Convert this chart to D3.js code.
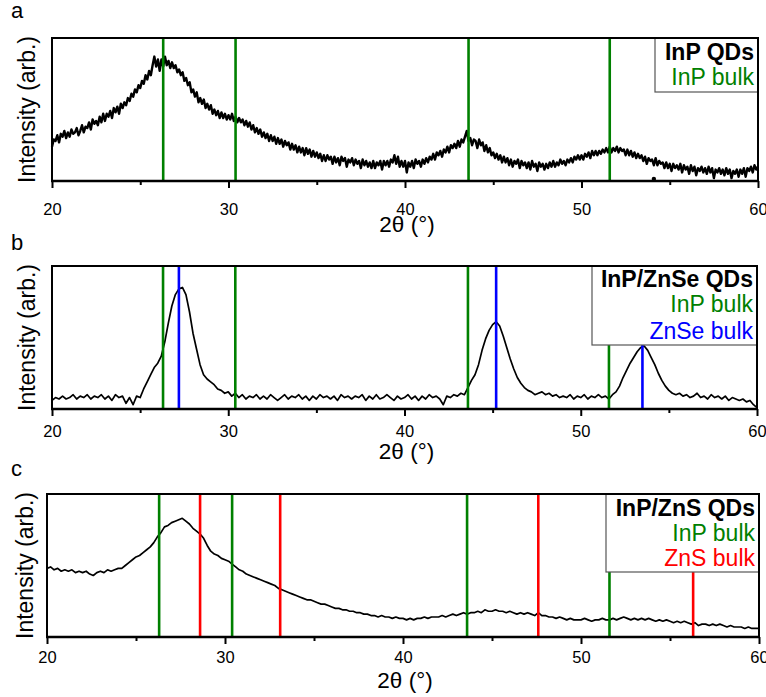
<!DOCTYPE html>
<html>
<head>
<meta charset="utf-8">
<script src="https://cdn.jsdelivr.net/npm/d3@7"></script>
<style>
  body { margin: 0; background: #fff; }
  svg { display: block; }
  text { font-family: "Liberation Sans", Arial, Helvetica, sans-serif; }
</style>
</head>
<body>
<svg id="chart" width="766" height="697"></svg>
<script>
// ---------- data ----------
const xTicks = [20, 25, 30, 35, 40, 45, 50, 55, 60];
const xLabelTicks = [20, 30, 40, 50, 60];

// reference reflection positions (2θ, degrees)
const inpBulk = [26.3, 30.4, 43.6, 51.6];
const znseBulk = [27.2, 45.2, 53.5];
const znsBulk = [28.6, 33.1, 47.6, 56.3];

// (a) InP QDs, 2θ = 20..60 in 0.1° steps, intensity in % of panel height
const inpQDs = [
  24, 29, 28, 32, 27, 33, 31, 35, 30, 34,
  31, 36, 33, 34, 37, 32, 35, 39, 34, 38,
  37, 41, 36, 43, 40, 42, 39, 45, 41, 47,
  42, 47, 45, 49, 44, 51, 48, 52, 47, 54,
  51, 55, 53, 58, 56, 61, 59, 64, 62, 67,
  65, 70, 68, 74, 71, 77, 74, 81, 87, 80,
  85, 77, 85, 80, 87, 81, 84, 79, 83, 79,
  81, 76, 78, 74, 76, 70, 72, 67, 69, 62,
  64, 59, 62, 55, 58, 54, 57, 51, 54, 50,
  53, 47, 50, 46, 49, 44, 48, 44, 47, 43,
  46, 43, 47, 42, 45, 41, 44, 41, 43, 39,
  42, 38, 41, 36, 39, 34, 37, 33, 36, 31,
  34, 30, 33, 28, 32, 28, 31, 26, 30, 26,
  29, 24, 28, 25, 27, 22, 26, 22, 25, 20,
  24, 20, 23, 18, 23, 19, 22, 17, 21, 17,
  20, 16, 19, 14, 18, 14, 18, 15, 17, 12,
  17, 13, 16, 11, 17, 14, 16, 10, 15, 13,
  16, 11, 15, 12, 14, 9, 15, 11, 14, 10,
  13, 9, 14, 9, 13, 11, 14, 8, 14, 11,
  14, 10, 15, 13, 18, 12, 17, 10, 14, 10,
  14, 6, 13, 10, 14, 9, 15, 12, 14, 10,
  15, 12, 16, 13, 17, 15, 19, 15, 20, 18,
  21, 17, 22, 20, 24, 20, 25, 23, 26, 23,
  28, 24, 29, 27, 31, 35, 28, 30, 25, 29,
  28, 23, 29, 25, 27, 21, 25, 20, 23, 18,
  20, 16, 19, 15, 18, 13, 17, 13, 16, 11,
  15, 10, 14, 12, 15, 9, 14, 11, 13, 9,
  13, 8, 14, 10, 12, 7, 13, 10, 12, 8,
  12, 9, 13, 10, 14, 10, 13, 11, 15, 12,
  14, 11, 15, 13, 16, 13, 17, 15, 18, 15,
  18, 15, 19, 17, 20, 16, 21, 18, 21, 18,
  21, 19, 22, 20, 23, 20, 24, 20, 23, 21,
  24, 20, 23, 21, 22, 18, 22, 18, 21, 17,
  20, 16, 19, 16, 18, 14, 17, 12, 16, 14,
  15, 11, 16, 11, 14, 12, 13, 9, 13, 9,
  12, 7, 12, 9, 11, 8, 12, 6, 11, 8,
  10, 5, 11, 7, 10, 4, 9, 7, 10, 6,
  9, 5, 10, 6, 9, 2, 8, 6, 9, 5,
  8, 4, 9, 5, 8, 2, 7, 5, 8, 3,
  8, 5, 9, 3, 9, 7, 10, 6, 11, 8,
  10
];
const inpQDsStray = [[54.1, 1.4]];

// (b) InP/ZnSe QDs, 2θ = 20..60 in 0.2° steps
const inpZnSeQDs = [
  6, 8, 7, 9, 7,
  8, 10, 7, 9, 8,
  10, 7, 9, 8, 10,
  7, 9, 6, 10, 8,
  9, 4, 8, 3, 9,
  8, 14, 19, 24, 29,
  32, 37, 47, 60, 72,
  80, 84, 85, 80, 68,
  53, 42, 31, 24, 21,
  19, 17, 14, 13, 11,
  12, 9, 11, 8, 10,
  7, 9, 8, 10, 7,
  9, 7, 10, 8, 6,
  8, 10, 7, 9, 8,
  10, 7, 9, 6, 9,
  7, 10, 8, 9, 7,
  9, 6, 10, 8, 9,
  7, 9, 8, 10, 6,
  9, 7, 10, 7, 8,
  10, 8, 6, 9, 7,
  8, 10, 7, 9, 6,
  9, 7, 10, 8, 9,
  7, 3, 9, 8, 10,
  9, 11, 10, 15, 20,
  24, 31, 41, 49, 55,
  59, 61, 58, 51, 43,
  35, 28, 22, 18, 15,
  13, 12, 10, 11, 12,
  10, 11, 9, 10, 8,
  9, 8, 10, 7, 9,
  8, 10, 7, 9, 8,
  10, 8, 9, 7, 10,
  12, 16, 22, 27, 32,
  36, 40, 43, 44, 41,
  36, 31, 25, 20, 16,
  13, 11, 10, 11, 9,
  10, 8, 9, 11, 8,
  9, 7, 10, 8, 9,
  7, 9, 6, 8, 7,
  6, 7, 5, 6, 3,
  1
];

// (c) InP/ZnS QDs, 2θ = 20..60 in 0.2° steps
const inpZnSQDs = [
  48, 49, 47, 48, 46,
  47, 46, 47, 45, 46,
  45, 46, 44, 43, 45,
  46, 45, 47, 46, 47,
  48, 48, 50, 52, 54,
  56, 57, 59, 61, 63,
  66, 70, 73, 77, 78,
  80, 81, 82, 83, 81,
  79, 76, 74, 72, 69,
  64, 60, 58, 57, 55,
  54, 53, 51, 49, 47,
  46, 44, 43, 42, 41,
  40, 39, 38, 37, 36,
  34, 33, 32, 31, 30,
  29, 28, 27, 26, 26,
  25, 24, 23, 23, 22,
  21, 20, 20, 19, 19,
  18, 18, 17, 17, 16,
  16, 15, 15, 14, 15,
  14, 14, 13, 14, 13,
  13, 12, 13, 12, 13,
  13, 14, 13, 14, 14,
  14, 15, 14, 15, 16,
  15, 16, 17, 16, 17,
  17, 18, 17, 19, 18,
  18, 19, 18, 18, 17,
  18, 17, 16, 17, 16,
  17, 16, 15, 17, 15,
  15, 14, 14, 13, 14,
  13, 12, 13, 12, 12,
  12, 13, 12, 11, 12,
  12, 13, 12, 12, 13,
  12, 13, 14, 13, 12,
  13, 12, 13, 12, 13,
  12, 11, 12, 11, 12,
  11, 10, 11, 10, 11,
  10, 9, 10, 8, 9,
  9, 8, 9, 8, 9,
  8, 7, 8, 7, 7,
  7, 6, 7, 6, 6,
  6
];

const legendA = ["InP QDs", "InP bulk"];
const legendB = ["InP/ZnSe QDs", "InP bulk", "ZnSe bulk"];
const legendC = ["InP/ZnS QDs", "InP bulk", "ZnS bulk"];

// ---------- styling / layout ----------
const GREEN = "#008000", BLUE = "#0000ff", RED = "#ff0000";
const X0 = 20, X1 = 60;

const panels = [
  {
    letter: "a", values: inpQDs, step: 0.1, stray: inpQDsStray,
    refs: [{ pos: inpBulk, color: GREEN }],
    legend: legendA, legendColors: ["#000", GREEN],
    frame: { l: 52, r: 758, t: 38, b: 181 },
    legendBox: { l: 655, b: 92 }, legendBase: [59.5, 84.5],
    traceWidth: 2.4, tickBase: 215, titleBase: 232, letterBase: 18, yTitleX: 35
  },
  {
    letter: "b", values: inpZnSeQDs, step: 0.2, stray: [],
    refs: [{ pos: inpBulk, color: GREEN }, { pos: znseBulk, color: BLUE }],
    legend: legendB, legendColors: ["#000", GREEN, BLUE],
    frame: { l: 52, r: 757, t: 266, b: 409 },
    legendBox: { l: 592, b: 345 }, legendBase: [286.5, 312, 338.5],
    traceWidth: 1.7, tickBase: 437, titleBase: 459, letterBase: 250, yTitleX: 35
  },
  {
    letter: "c", values: inpZnSQDs, step: 0.2, stray: [],
    refs: [{ pos: inpBulk, color: GREEN }, { pos: znsBulk, color: RED }],
    legend: legendC, legendColors: ["#000", GREEN, RED],
    frame: { l: 47, r: 759, t: 494, b: 637 },
    legendBox: { l: 606, b: 572 }, legendBase: [516, 541, 565.5],
    traceWidth: 1.7, tickBase: 663, titleBase: 688, letterBase: 476, yTitleX: 33
  }
];

const svg = d3.select("#chart");

panels.forEach(p => {
  const f = p.frame;
  const x = d3.scaleLinear().domain([X0, X1]).range([f.l, f.r]);
  const y = d3.scaleLinear().domain([0, 100]).range([f.b, f.t]);
  const g = svg.append("g").attr("class", "panel-" + p.letter);

  // panel letter
  g.append("text")
    .attr("x", 11).attr("y", p.letterBase)
    .attr("font-size", 22).attr("fill", "#000")
    .text(p.letter);

  // diffraction trace
  const pts = p.values.map((v, i) => [X0 + i * p.step, v]);
  const line = d3.line().x(d => x(d[0])).y(d => y(d[1]));
  g.append("path")
    .datum(pts)
    .attr("d", line)
    .attr("fill", "none")
    .attr("stroke", "#000")
    .attr("stroke-width", p.traceWidth)
    .attr("stroke-linejoin", "round");

  g.selectAll("circle.stray")
    .data(p.stray)
    .join("circle")
    .attr("class", "stray")
    .attr("cx", d => x(d[0])).attr("cy", d => y(d[1]))
    .attr("r", 2.2).attr("fill", "#000");

  // bulk reference reflections
  p.refs.forEach(r => {
    g.selectAll(null)
      .data(r.pos)
      .join("line")
      .attr("x1", d => x(d)).attr("x2", d => x(d))
      .attr("y1", y(100) - 1).attr("y2", y(0))
      .attr("stroke", r.color)
      .attr("stroke-width", 2.6);
  });

  // legend box
  const lb = p.legendBox;
  g.append("rect")
    .attr("x", lb.l).attr("y", f.t)
    .attr("width", f.r - lb.l).attr("height", lb.b - f.t)
    .attr("fill", "#fff")
    .attr("stroke", "#555").attr("stroke-width", 1.2);
  p.legend.forEach((t, i) => {
    g.append("text")
      .attr("x", f.r - 4).attr("y", p.legendBase[i])
      .attr("text-anchor", "end")
      .attr("font-size", 23)
      .attr("font-weight", i === 0 ? "bold" : "normal")
      .attr("fill", p.legendColors[i])
      .text(t);
  });

  // frame: left, top, right
  g.append("path")
    .attr("d", `M${f.l},${f.b}V${f.t}H${f.r}V${f.b}`)
    .attr("fill", "none").attr("stroke", "#000").attr("stroke-width", 2);

  // bottom axis
  const axis = d3.axisBottom(x)
    .tickValues(xTicks)
    .tickFormat(d => xLabelTicks.includes(d) ? d : "")
    .tickSizeOuter(0)
    .tickSizeInner(7);
  const ax = g.append("g")
    .attr("transform", `translate(0,${f.b})`)
    .call(axis);
  ax.select(".domain").remove();
  ax.selectAll(".tick line")
    .attr("stroke", "#000")
    .attr("stroke-width", 2)
    .attr("y2", d => xLabelTicks.includes(d) ? 7 : 4);
  ax.selectAll(".tick text")
    .attr("y", p.tickBase - f.b).attr("dy", 0)
    .attr("font-size", 16.5)
    .attr("font-family", "\"Liberation Sans\", Arial, sans-serif")
    .attr("fill", "#000");
  g.append("line")
    .attr("x1", f.l - 1).attr("x2", f.r + 1)
    .attr("y1", f.b).attr("y2", f.b)
    .attr("stroke", "#000").attr("stroke-width", 2.6);

  // axis titles
  g.append("text")
    .attr("x", (f.l + f.r) / 2 + 2).attr("y", p.titleBase)
    .attr("text-anchor", "middle")
    .attr("font-size", 22.5)
    .text("2θ (°)");
  g.append("text")
    .attr("transform", `translate(${p.yTitleX},${(f.t + f.b) / 2}) rotate(-90)`)
    .attr("text-anchor", "middle")
    .attr("font-size", 23)
    .text("Intensity (arb.)");
});
</script>
</body>
</html>
